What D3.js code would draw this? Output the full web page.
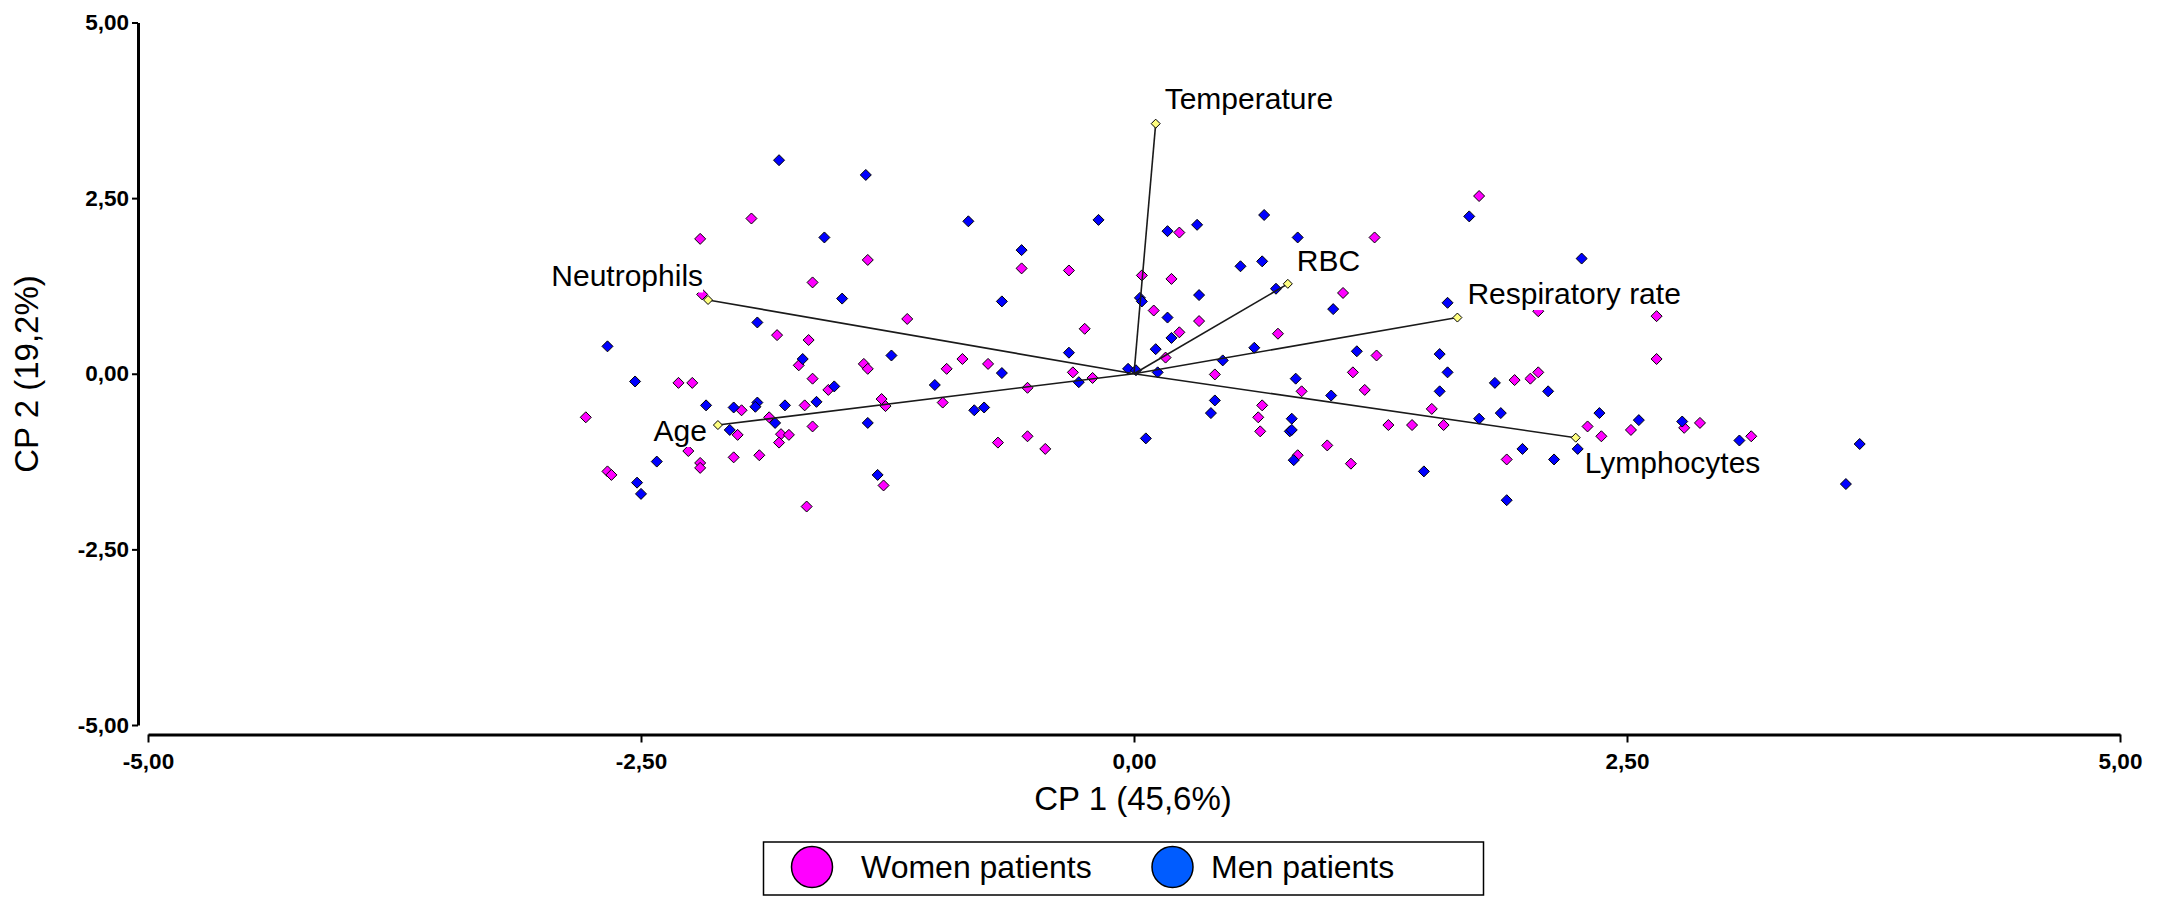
<!DOCTYPE html>
<html>
<head>
<meta charset="utf-8">
<script src="https://cdn.jsdelivr.net/npm/d3@7"></script>
<style>
  html, body { margin: 0; padding: 0; background: #fff; }
  svg { display: block; }
</style>
</head>
<body>
<svg id="chart" width="2167" height="897"></svg>
<script>
// ---------------- DATA ----------------
const seriesNames = ["Women patients", "Men patients"];
const xTitle = "CP 1 (45,6%)";
const yTitle = "CP 2 (19,2%)";
const tickValues = [-5, -2.5, 0, 2.5, 5];

const womenX = [-1.94, -2.20, -1.35, -1.63, -2.19, -1.15, -1.81, -1.65, -1.70, -1.37, -1.35, -0.95,
  -2.31, -2.24, -1.63, -1.55, -1.99, -1.67, -1.28, -1.26, -0.97, -2.78, -1.85, -1.63, -2.01, -1.79,
  -1.75, -1.80, -2.26, -2.03, -1.90, -2.20, -2.20, -2.67, -2.65, -1.27, -1.66,
  -0.57, -0.33, -0.25, -0.87, -0.74, -0.31, -0.21, -0.54, -0.69, -0.54, -0.45, 0.04, 0.23, 0.19,
  0.10, 0.33, 0.23, 0.16, 0.41, 0.73, 0.85, 0.65, 0.63, 0.64, 0.98, 0.83,
  1.75, 1.22, 1.06, 2.05, 2.65, 1.23, 1.11, 1.17, 1.93, 2.01, 2.05, 2.65, 1.51, 1.29, 1.41, 1.57,
  2.30, 2.37, 2.52, 2.79, 2.87, 1.10, 1.89, 3.13];
const womenY = [2.21, 1.92, 1.62, 1.30, 1.13, 0.78, 0.55, 0.48, 0.12, 0.14, 0.07, 0.07,
  -0.13, -0.13, -0.07, -0.23, -0.52, -0.45, -0.36, -0.46, -0.41, -0.62, -0.62, -0.75, -0.87, -0.86,
  -0.87, -0.98, -1.10, -1.19, -1.16, -1.27, -1.34, -1.39, -1.44, -1.59, -1.89,
  1.50, 1.47, 0.64, 0.21, 0.14, 0.02, -0.06, -0.20, -0.98, -0.89, -1.07, 1.40, 2.01, 1.35,
  0.90, 0.75, 0.59, 0.23, -0.01, 0.57, -0.25, -0.45, -0.62, -0.82, -1.02, -1.16,
  2.53, 1.94, 1.15, 0.89, 0.82, 0.26, 0.02, -0.23, -0.09, -0.07, 0.02, 0.21, -0.50, -0.73, -0.73, -0.73,
  -0.75, -0.89, -0.80, -0.77, -0.70, -1.28, -1.22, -0.89];

const menX = [-1.80, -1.36, -1.57, -1.48, -1.91, -2.67, -1.68, -1.23, -2.53, -1.52, -1.01, -2.17,
  -2.03, -1.91, -1.92, -1.77, -1.61, -1.82, -1.35, -2.05, -2.42, -2.52, -2.50, -1.30,
  -0.84, -0.18, -0.57, -0.67, -0.33, -0.67, -0.28, -0.81, -0.76, 0.06, -0.03, 0.01, 0.12, 0.03,
  0.04, 0.17, 0.32, 0.33, 0.17, 0.19, 0.11, 0.45, 0.41, 0.39, 0.54, 0.65, 0.66, 0.83, 0.72, 0.61,
  1.01, 0.82, 1.00, 0.80, 0.79, 0.80, 0.81,
  1.70, 2.27, 1.59, 1.13, 1.55, 1.59, 1.55, 1.83, 2.10, 1.75, 1.86, 2.36, 2.56, 2.78, 1.47, 1.97,
  2.13, 2.25, 1.89, 3.07, 3.68, 3.61];
const menY = [3.04, 2.83, 1.94, 1.07, 0.73, 0.39, 0.21, 0.26, -0.11, -0.18, -0.16, -0.45,
  -0.48, -0.41, -0.47, -0.45, -0.40, -0.70, -0.70, -0.80, -1.25, -1.55, -1.71, -1.44,
  2.17, 2.19, 1.76, 1.03, 0.30, 0.01, -0.12, -0.52, -0.48, -0.92, 0.07, 0.05, 0.02, 1.08,
  1.03, 2.03, 2.12, 1.12, 0.80, 0.51, 0.35, 0.19, -0.38, -0.56, 1.53, 1.60, 2.26, 1.94, 1.21, 0.37,
  0.92, -0.07, -0.31, -0.64, -0.82, -0.80, -1.23,
  2.24, 1.64, 1.01, 0.32, 0.28, 0.02, -0.25, -0.13, -0.25, -0.64, -0.56, -0.56, -0.66, -0.68, -1.39, -1.07,
  -1.22, -1.07, -1.80, -0.95, -1.00, -1.57];

const loadingNames = ["Temperature", "RBC", "Respiratory rate", "Lymphocytes", "Age", "Neutrophils"];
const loadingX = [0.11, 0.78, 1.64, 2.24, -2.11, -2.16];
const loadingY = [3.56, 1.28, 0.80, -0.91, -0.73, 1.05];

// ---------------- LAYOUT / STYLE ----------------
const W = 2167, H = 897;
const FONT = "'Liberation Sans', Arial, Helvetica, sans-serif";
const colors = { women: "#FF00FF", men: "#0000FF", legendWomen: "#FF00FF", legendMen: "#005CFF", loading: "#FFFF80" };
// label offset from the end of each loading vector (pixels)
const labelPlacement = {
  "Temperature":      { dx: 9,   dy: -15,  anchor: "start" },
  "RBC":              { dx: 9,   dy: -13,  anchor: "start" },
  "Respiratory rate": { dx: 10,  dy: -13.5,anchor: "start" },
  "Lymphocytes":      { dx: 9,   dy: 35,   anchor: "start" },
  "Age":              { dx: -11, dy: 16,   anchor: "end" },
  "Neutrophils":      { dx: -5,  dy: -13.5,anchor: "end" }
};

const svg = d3.select("#chart");
svg.append("rect").attr("width", W).attr("height", H).attr("fill", "#fff");

const x = d3.scaleLinear().domain([-5, 5]).range([148, 2120]);
const y = d3.scaleLinear().domain([-5, 5]).range([725, 22.5]);

const fmt = d3.formatLocale({ decimal: ",", thousands: ".", grouping: [3], currency: ["", ""], minus: "-" }).format(".2f");

// ---- axes ----
const yAxisG = svg.append("g")
  .attr("transform", "translate(138,0)")
  .call(d3.axisLeft(y).tickValues(tickValues).tickFormat(fmt).tickSize(6).tickSizeOuter(0).tickPadding(3));
const xAxisG = svg.append("g")
  .attr("transform", "translate(0,734.5)")
  .call(d3.axisBottom(x).tickValues(tickValues).tickFormat(fmt).tickSize(8).tickSizeOuter(0).tickPadding(10.5));

[yAxisG, xAxisG].forEach(g => {
  g.attr("font-family", FONT).attr("font-size", 22.5);
  g.select(".domain").attr("stroke", "#000").attr("stroke-width", 3);
  g.selectAll(".tick line").attr("stroke", "#000").attr("stroke-width", 2);
  g.selectAll(".tick text").attr("fill", "#000").attr("font-weight", "bold");
});

// ---- axis titles ----
svg.append("text")
  .attr("x", 1133).attr("y", 810)
  .attr("text-anchor", "middle")
  .attr("font-family", FONT).attr("font-size", 33).attr("fill", "#000")
  .text(xTitle);
svg.append("text")
  .attr("transform", "translate(38,374) rotate(-90)")
  .attr("text-anchor", "middle")
  .attr("font-family", FONT).attr("font-size", 33).attr("fill", "#000")
  .text(yTitle);

// ---- points ----
const diamond = r => `M0,${-r}L${r},0L0,${r}L${-r},0Z`;
const women = womenX.map((v, i) => ({ x: v, y: womenY[i] }));
const men = menX.map((v, i) => ({ x: v, y: menY[i] }));

const pts = svg.append("g");
pts.selectAll("path.w").data(women).join("path")
  .attr("class", "w")
  .attr("d", diamond(5.5))
  .attr("transform", d => `translate(${x(d.x)},${y(d.y)})`)
  .attr("fill", colors.women).attr("stroke", "#000").attr("stroke-width", 1);
pts.selectAll("path.m").data(men).join("path")
  .attr("class", "m")
  .attr("d", diamond(5.5))
  .attr("transform", d => `translate(${x(d.x)},${y(d.y)})`)
  .attr("fill", colors.men).attr("stroke", "#000").attr("stroke-width", 1);

// ---- loading vectors ----
const loadings = loadingNames.map((n, i) => ({ name: n, x: loadingX[i], y: loadingY[i] }));
const vec = svg.append("g");
vec.selectAll("line").data(loadings).join("line")
  .attr("x1", x(0)).attr("y1", y(0))
  .attr("x2", d => x(d.x)).attr("y2", d => y(d.y))
  .attr("stroke", "#1a1a1a").attr("stroke-width", 1.6);
vec.selectAll("path").data(loadings).join("path")
  .attr("d", diamond(4.5))
  .attr("transform", d => `translate(${x(d.x)},${y(d.y)})`)
  .attr("fill", colors.loading).attr("stroke", "#000").attr("stroke-width", 1);

const labG = svg.append("g");
loadings.forEach(d => {
  const p = labelPlacement[d.name];
  const g = labG.append("g");
  const t = g.append("text")
    .attr("x", x(d.x) + p.dx).attr("y", y(d.y) + p.dy)
    .attr("text-anchor", p.anchor)
    .attr("font-family", FONT).attr("font-size", 30).attr("fill", "#000")
    .text(d.name);
  const bb = t.node().getBBox();
  g.insert("rect", "text")
    .attr("x", bb.x).attr("y", bb.y + 2).attr("width", bb.width).attr("height", bb.height - 2)
    .attr("fill", "#fff");
});

// ---- legend ----
const leg = svg.append("g");
leg.append("rect")
  .attr("x", 763.5).attr("y", 842).attr("width", 720).attr("height", 53)
  .attr("fill", "#fff").attr("stroke", "#000").attr("stroke-width", 1.5);
const legItems = [
  { name: seriesNames[0], color: colors.legendWomen, cx: 812, tx: 861 },
  { name: seriesNames[1], color: colors.legendMen, cx: 1172.5, tx: 1211 }
];
legItems.forEach(it => {
  leg.append("circle")
    .attr("cx", it.cx).attr("cy", 867).attr("r", 20.5)
    .attr("fill", it.color).attr("stroke", "#000").attr("stroke-width", 1.5);
  leg.append("text")
    .attr("x", it.tx).attr("y", 878)
    .attr("font-family", FONT).attr("font-size", 32).attr("fill", "#000")
    .text(it.name);
});
</script>
</body>
</html>
